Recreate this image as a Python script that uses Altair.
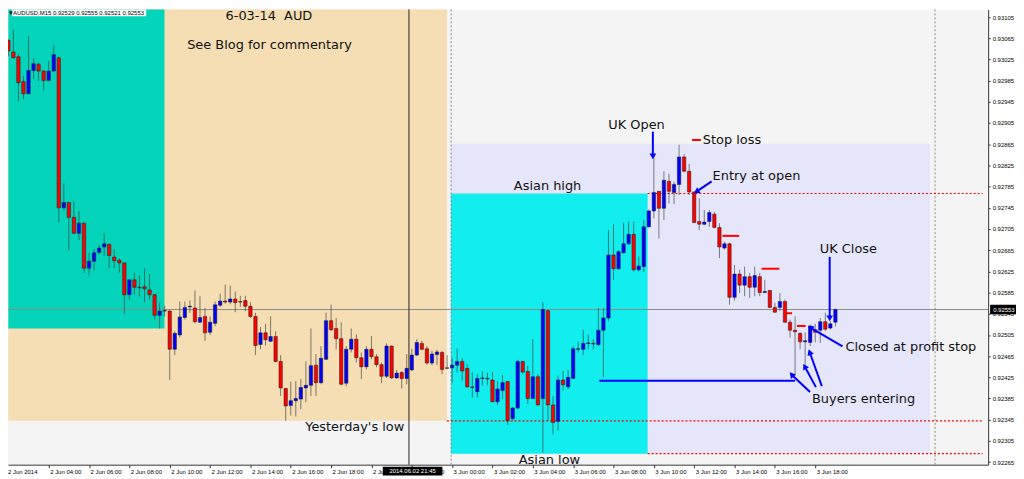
import altair as alt
import pandas as pd

# ---------------- data: AUDUSD M15 bars, 2 Jun 2014 02:00 -> 3 Jun 2014 19:00 ----------------
opens = [
    0.93061, 0.93039, 0.93030, 0.92983, 0.92960, 0.93004, 0.93016, 0.93003, 0.92985, 0.93003,
    0.93028, 0.92745, 0.92755, 0.92727, 0.92697, 0.92716, 0.92631, 0.92644, 0.92661, 0.92671,
    0.92676, 0.92652, 0.92646, 0.92641, 0.92581, 0.92609, 0.92595, 0.92596, 0.92590, 0.92581,
    0.92542, 0.92550, 0.92550, 0.92478, 0.92505, 0.92538, 0.92558, 0.92556, 0.92529, 0.92540,
    0.92510, 0.92527, 0.92561, 0.92569, 0.92567, 0.92573, 0.92568, 0.92570, 0.92559, 0.92540,
    0.92487, 0.92509, 0.92493, 0.92502, 0.92455, 0.92404, 0.92372, 0.92381, 0.92384, 0.92405,
    0.92410, 0.92448, 0.92415, 0.92459, 0.92532, 0.92517, 0.92498, 0.92414, 0.92478, 0.92497,
    0.92462, 0.92445, 0.92478, 0.92464, 0.92449, 0.92427, 0.92484, 0.92424, 0.92434, 0.92423,
    0.92439, 0.92467, 0.92489, 0.92479, 0.92452, 0.92468, 0.92472, 0.92443, 0.92443, 0.92448,
    0.92455, 0.92442, 0.92407, 0.92398, 0.92423, 0.92423, 0.92420, 0.92379, 0.92400, 0.92417,
    0.92347, 0.92367, 0.92455, 0.92436, 0.92385, 0.92426, 0.92385, 0.92551, 0.92373, 0.92342,
    0.92420, 0.92407, 0.92423, 0.92478, 0.92478, 0.92489, 0.92489, 0.92487, 0.92514, 0.92537,
    0.92656, 0.92630, 0.92660, 0.92677, 0.92695, 0.92628, 0.92634, 0.92709, 0.92739, 0.92776,
    0.92744, 0.92795, 0.92774, 0.92789, 0.92841, 0.92814, 0.92775, 0.92719, 0.92714, 0.92719,
    0.92733, 0.92708, 0.92669, 0.92677, 0.92576, 0.92620, 0.92599, 0.92615, 0.92595, 0.92615,
    0.92585, 0.92589, 0.92557, 0.92557, 0.92568, 0.92529, 0.92514, 0.92508, 0.92492, 0.92491,
    0.92515, 0.92514, 0.92530, 0.92518, 0.92529,
]
highs = [
    0.93063, 0.93081, 0.93036, 0.92994, 0.93069, 0.93027, 0.93019, 0.93004, 0.93022, 0.93052,
    0.93030, 0.92791, 0.92756, 0.92757, 0.92739, 0.92717, 0.92660, 0.92667, 0.92675, 0.92697,
    0.92677, 0.92667, 0.92650, 0.92642, 0.92610, 0.92622, 0.92617, 0.92631, 0.92620, 0.92582,
    0.92566, 0.92560, 0.92552, 0.92512, 0.92568, 0.92568, 0.92570, 0.92589, 0.92578, 0.92556,
    0.92540, 0.92568, 0.92583, 0.92600, 0.92598, 0.92587, 0.92579, 0.92579, 0.92567, 0.92547,
    0.92520, 0.92526, 0.92540, 0.92512, 0.92467, 0.92405, 0.92417, 0.92418, 0.92422, 0.92455,
    0.92517, 0.92469, 0.92484, 0.92547, 0.92562, 0.92537, 0.92529, 0.92484, 0.92517, 0.92506,
    0.92472, 0.92484, 0.92503, 0.92469, 0.92453, 0.92489, 0.92485, 0.92439, 0.92437, 0.92469,
    0.92479, 0.92497, 0.92494, 0.92484, 0.92475, 0.92477, 0.92475, 0.92467, 0.92462, 0.92479,
    0.92462, 0.92450, 0.92434, 0.92431, 0.92436, 0.92434, 0.92435, 0.92418, 0.92429, 0.92418,
    0.92369, 0.92458, 0.92456, 0.92447, 0.92497, 0.92431, 0.92567, 0.92553, 0.92390, 0.92428,
    0.92437, 0.92439, 0.92484, 0.92492, 0.92515, 0.92506, 0.92497, 0.92556, 0.92556, 0.92703,
    0.92714, 0.92665, 0.92717, 0.92719, 0.92719, 0.92653, 0.92722, 0.92742, 0.92847, 0.92777,
    0.92814, 0.92809, 0.92794, 0.92864, 0.92846, 0.92828, 0.92776, 0.92763, 0.92741, 0.92741,
    0.92737, 0.92716, 0.92681, 0.92679, 0.92637, 0.92628, 0.92634, 0.92622, 0.92634, 0.92622,
    0.92609, 0.92590, 0.92566, 0.92584, 0.92572, 0.92534, 0.92540, 0.92510, 0.92510, 0.92525,
    0.92526, 0.92537, 0.92547, 0.92531, 0.92555,
]
lows = [
    0.93031, 0.93027, 0.92946, 0.92950, 0.92959, 0.92988, 0.92984, 0.92967, 0.92984, 0.93002,
    0.92718, 0.92740, 0.92665, 0.92695, 0.92684, 0.92622, 0.92617, 0.92627, 0.92657, 0.92654,
    0.92631, 0.92631, 0.92622, 0.92544, 0.92572, 0.92581, 0.92578, 0.92567, 0.92572, 0.92534,
    0.92517, 0.92540, 0.92420, 0.92467, 0.92500, 0.92534, 0.92547, 0.92527, 0.92528, 0.92494,
    0.92505, 0.92522, 0.92558, 0.92564, 0.92563, 0.92548, 0.92558, 0.92550, 0.92537, 0.92467,
    0.92478, 0.92485, 0.92492, 0.92453, 0.92390, 0.92343, 0.92353, 0.92351, 0.92365, 0.92378,
    0.92390, 0.92390, 0.92412, 0.92458, 0.92512, 0.92478, 0.92410, 0.92408, 0.92472, 0.92453,
    0.92422, 0.92440, 0.92459, 0.92444, 0.92414, 0.92424, 0.92422, 0.92422, 0.92404, 0.92412,
    0.92437, 0.92465, 0.92476, 0.92449, 0.92448, 0.92448, 0.92431, 0.92440, 0.92415, 0.92434,
    0.92418, 0.92406, 0.92387, 0.92387, 0.92409, 0.92410, 0.92378, 0.92373, 0.92384, 0.92335,
    0.92343, 0.92365, 0.92431, 0.92375, 0.92384, 0.92372, 0.92283, 0.92343, 0.92317, 0.92325,
    0.92400, 0.92403, 0.92422, 0.92472, 0.92467, 0.92478, 0.92478, 0.92484, 0.92425, 0.92531,
    0.92609, 0.92628, 0.92659, 0.92675, 0.92625, 0.92625, 0.92624, 0.92708, 0.92725, 0.92687,
    0.92722, 0.92753, 0.92752, 0.92769, 0.92812, 0.92769, 0.92716, 0.92703, 0.92712, 0.92709,
    0.92706, 0.92650, 0.92666, 0.92562, 0.92570, 0.92584, 0.92578, 0.92575, 0.92578, 0.92578,
    0.92584, 0.92556, 0.92547, 0.92550, 0.92528, 0.92500, 0.92431, 0.92478, 0.92444, 0.92484,
    0.92491, 0.92490, 0.92512, 0.92515, 0.92521,
]
closes = [
    0.93041, 0.93028, 0.92981, 0.92960, 0.93004, 0.93017, 0.93003, 0.92985, 0.93003, 0.93034,
    0.92745, 0.92755, 0.92727, 0.92697, 0.92716, 0.92631, 0.92644, 0.92660, 0.92669, 0.92677,
    0.92655, 0.92645, 0.92641, 0.92581, 0.92609, 0.92595, 0.92594, 0.92592, 0.92581, 0.92542,
    0.92550, 0.92551, 0.92478, 0.92508, 0.92539, 0.92557, 0.92559, 0.92530, 0.92538, 0.92509,
    0.92529, 0.92562, 0.92569, 0.92567, 0.92573, 0.92566, 0.92567, 0.92559, 0.92540, 0.92485,
    0.92509, 0.92496, 0.92502, 0.92455, 0.92405, 0.92371, 0.92381, 0.92385, 0.92406, 0.92410,
    0.92447, 0.92415, 0.92461, 0.92532, 0.92515, 0.92498, 0.92412, 0.92478, 0.92497, 0.92462,
    0.92445, 0.92478, 0.92464, 0.92449, 0.92427, 0.92484, 0.92424, 0.92433, 0.92423, 0.92442,
    0.92467, 0.92491, 0.92478, 0.92452, 0.92469, 0.92473, 0.92440, 0.92442, 0.92448, 0.92455,
    0.92437, 0.92407, 0.92406, 0.92423, 0.92424, 0.92422, 0.92379, 0.92403, 0.92415, 0.92343,
    0.92367, 0.92455, 0.92435, 0.92385, 0.92426, 0.92373, 0.92553, 0.92373, 0.92340, 0.92420,
    0.92411, 0.92425, 0.92479, 0.92479, 0.92489, 0.92490, 0.92488, 0.92514, 0.92537, 0.92656,
    0.92630, 0.92662, 0.92677, 0.92695, 0.92628, 0.92635, 0.92709, 0.92739, 0.92774, 0.92744,
    0.92797, 0.92776, 0.92789, 0.92841, 0.92814, 0.92775, 0.92717, 0.92714, 0.92718, 0.92736,
    0.92708, 0.92671, 0.92677, 0.92576, 0.92620, 0.92599, 0.92615, 0.92595, 0.92617, 0.92585,
    0.92587, 0.92557, 0.92548, 0.92568, 0.92529, 0.92514, 0.92511, 0.92492, 0.92494, 0.92522,
    0.92510, 0.92530, 0.92516, 0.92526, 0.92553,
]
# bar open time in hours after 2 Jun 2014 00:00 (M15 bars)
bar_hours = [2 + 0.25 * i for i in range(len(opens))]

x_tick_hours = [4, 6, 8, 10, 12, 14, 16, 18, 20, 22, 24, 26, 28, 30, 32, 34, 36, 38, 40, 42]
x_tick_labels = ["2 Jun 04:00", "2 Jun 06:00", "2 Jun 08:00", "2 Jun 10:00", "2 Jun 12:00",
                 "2 Jun 14:00", "2 Jun 16:00", "2 Jun 18:00", "2 Jun 20:00", "2 Jun 22:00",
                 "3 Jun 00:00", "3 Jun 02:00", "3 Jun 04:00", "3 Jun 06:00", "3 Jun 08:00",
                 "3 Jun 10:00", "3 Jun 12:00", "3 Jun 14:00", "3 Jun 16:00", "3 Jun 18:00"]
first_label = "2 Jun 2014"
y_tick_values = [0.92265, 0.92305, 0.92345, 0.92385, 0.92425, 0.92465, 0.92505, 0.92545,
                 0.92585, 0.92625, 0.92665, 0.92705, 0.92745, 0.92785, 0.92825, 0.92865,
                 0.92905, 0.92945, 0.92985, 0.93025, 0.93065, 0.93105]

# session / day boxes
zone_start = [2.0, 2.0, 23.94, 23.94]
zone_end = [23.74, 9.74, 47.69, 33.69]
zone_low = [0.92343, 0.92517, 0.92281, 0.92281]
zone_high = [0.93200, 0.93200, 0.92866, 0.92772]
zone_color = ["#F5DEB3", "#03D4BA", "#E6E6FA", "#12EDED"]

# key levels (red dotted)
level_value = [0.92772, 0.92343, 0.92281]
level_start = [33.69, 23.74, 33.69]

# trade stop markers (red dashes)
stop_value = [0.92873, 0.92692, 0.92630, 0.92546, 0.92522]
stop_start = [35.89, 37.40, 39.34, 40.51, 41.09]
stop_end = [36.33, 38.23, 40.22, 40.85, 41.53]

bid_price = closes[-1]
separator_hours = [23.95, 47.94]
crosshair_hour = 21.86
crosshair_label = "2014.06.02 21:45"

W, H = 986, 458
x_scale = alt.Scale(domain=[2.2293, 50.3268], nice=False, zero=False)
y_scale = alt.Scale(domain=[0.922602, 0.931194], nice=False, zero=False)

label_expr = "[" + ",".join("'" + s + "'" for s in x_tick_labels) + "][round((datum.value - 4) / 2)]"
x_axis = alt.Axis(values=x_tick_hours, labelExpr=label_expr, title=None, grid=False, tickSize=3,
                  labelAlign="left", labelBaseline="top", labelPadding=1, labelOffset=1,
                  labelFontSize=6, labelFont="Liberation Sans", labelColor="#000",
                  tickColor="#333", domainColor="#333", labelOverlap=False, labelFlush=False)
y_axis = alt.Axis(orient="right", values=y_tick_values, format=".5f", title=None, grid=False,
                  tickSize=2, labelPadding=2, labelFontSize=6, labelFont="Liberation Sans",
                  labelColor="#000", tickColor="#333", domainColor="#333", labelOverlap=False,
                  labelFlush=False)


def X(f):
    return alt.X(f, type="quantitative", scale=x_scale, axis=x_axis)


def Y(f):
    return alt.Y(f, type="quantitative", scale=y_scale, axis=y_axis)


candles = pd.DataFrame({"h": bar_hours, "open": opens, "high": highs, "low": lows, "close": closes})
candles["col"] = ["#0000FF" if c >= o else "#FF0000" for o, c in zip(opens, closes)]

zones = pd.DataFrame({"s": zone_start, "e": zone_end, "lo": zone_low, "hi": zone_high, "c": zone_color})
levels = pd.DataFrame({"v": level_value, "s": level_start, "e": [50.3] * len(level_value)})
stops = pd.DataFrame({"v": stop_value, "s": stop_start, "e": stop_end})
seps = pd.DataFrame({"h": separator_hours})

zone_layer = alt.Chart(zones).mark_rect(clip=True).encode(
    x=X("s"), x2="e", y=Y("lo"), y2="hi", color=alt.Color("c:N", scale=None))

sep_layer = alt.Chart(seps).mark_rule(color="#8a8a8a", strokeDash=[2, 2], strokeWidth=1).encode(x=X("h"))
level_layer = alt.Chart(levels).mark_rule(color="#FF0000", strokeDash=[2, 2], strokeWidth=1.2, clip=True).encode(
    x=X("s"), x2="e", y=Y("v"))
bid_layer = alt.Chart(pd.DataFrame({"v": [bid_price]})).mark_rule(color="#8c8c8c", strokeWidth=1).encode(y=Y("v"))
cross_layer = alt.Chart(pd.DataFrame({"h": [crosshair_hour]})).mark_rule(color="#222", strokeWidth=1).encode(x=X("h"))

wick_layer = alt.Chart(candles).mark_rule(color="#3c3c3c", opacity=0.65, strokeWidth=1, clip=True).encode(
    x=X("h"), y=Y("low"), y2="high")
body_layer = alt.Chart(candles).mark_bar(size=3.4, stroke="#1a1a1a", strokeWidth=0.5, clip=True).encode(
    x=X("h"), y=Y("open"), y2="close", color=alt.Color("col:N", scale=None))

stop_layer = alt.Chart(stops).mark_rule(color="#FF0000", strokeWidth=2).encode(x=X("s"), x2="e", y=Y("v"))

# arrows (blue)
arrows = pd.DataFrame({
    "h1": [33.951, 36.863, 42.717, 43.351, 41.741, 42.034, 42.327],
    "p1": [0.928887, 0.927949, 0.926523, 0.924835, 0.923972, 0.924066, 0.924085],
    "h2": [33.951, 36.15, 42.717, 41.80, 40.86, 41.50, 41.74],
    "p2": [0.928440, 0.927765, 0.925380, 0.925180, 0.924290, 0.924440, 0.924710],
    "ang": [180, 238, 180, 300, 318, 331, 340],
})
arrow_line = alt.Chart(arrows).mark_rule(color="#0000FF", strokeWidth=2).encode(
    x=X("h1"), y=Y("p1"), x2="h2", y2="p2")
arrow_head = alt.Chart(arrows).mark_point(shape="triangle", filled=True, size=45, color="#0000FF", opacity=1).encode(
    x=X("h2"), y=Y("p2"), angle=alt.Angle("ang:Q", scale=None))
buyers_line = alt.Chart(pd.DataFrame({"s": [31.30], "e": [41.0], "v": [0.924188]})).mark_rule(
    color="#0000FF", strokeWidth=2).encode(x=X("s"), x2="e", y=Y("v"))

notes = pd.DataFrame({
    "h": [12.766, 10.863, 31.741, 36.424, 27.059, 36.912, 42.229, 43.498, 41.839, 16.717, 27.302],
    "p": [0.931070, 0.930519, 0.929018, 0.928737, 0.927855, 0.928043, 0.926673, 0.924816,
          0.923841, 0.923315, 0.922696],
    "t": ["6-03-14\u00a0 AUD", "See Blog for commentary", "UK Open", "Stop loss", "Asian high",
          "Entry at open", "UK Close", "Closed at profit stop", "Buyers entering",
          "Yesterday's low", "Asian low"],
})
note_layer = alt.Chart(notes).mark_text(align="left", baseline="middle", font="DejaVu Sans",
                                        fontSize=13, color="#111").encode(x=X("h"), y=Y("p"), text="t:N")

one = pd.DataFrame({"k": [0]})
header_text = "AUDUSD,M15  {:.5f} {:.5f} {:.5f} {:.5f}".format(opens[-1], highs[-1], lows[-1], closes[-1])
header_box = alt.Chart(one).mark_rect(color="white").encode(
    x=alt.value(4), x2=alt.value(139), y=alt.value(0), y2=alt.value(7))
header_txt = alt.Chart(one).mark_text(align="left", baseline="middle", font="Liberation Sans",
                                      fontSize=6, color="#000").encode(
    x=alt.value(5), y=alt.value(3.6), text=alt.value(header_text))
header_tri = alt.Chart(one).mark_text(align="left", baseline="middle", fontSize=6, color="#000").encode(
    x=alt.value(0), y=alt.value(3.6), text=alt.value("\u25bc"))

first_lbl = alt.Chart(one).mark_text(align="left", baseline="top", font="Liberation Sans",
                                     fontSize=6, color="#000").encode(
    x=alt.value(0), y=alt.value(H + 4), text=alt.value(first_label))

cross_box = alt.Chart(one).mark_rect(color="#000").encode(
    x=alt.value(377), x2=alt.value(437), y=alt.value(H + 2), y2=alt.value(H + 11))
cross_txt = alt.Chart(one).mark_text(align="center", baseline="middle", font="Liberation Sans",
                                     fontSize=6, color="#fff").encode(
    x=alt.value(407), y=alt.value(H + 6.5), text=alt.value(crosshair_label))

price_df = pd.DataFrame({"v": [bid_price], "lo": [bid_price - 0.00009], "hi": [bid_price + 0.00009],
                         "t": ["{:.5f}".format(bid_price)]})
price_box = alt.Chart(price_df).mark_rect(color="#000").encode(
    x=alt.value(988), x2=alt.value(1014), y=Y("lo"), y2="hi")
price_txt = alt.Chart(price_df).mark_text(align="left", baseline="middle", font="Liberation Sans",
                                          fontSize=6, color="#fff").encode(
    x=alt.value(991), y=Y("v"), text="t:N")

chart = alt.layer(
    zone_layer, sep_layer, level_layer, bid_layer, cross_layer, wick_layer, body_layer,
    stop_layer, buyers_line, arrow_line, arrow_head, note_layer,
    header_box, header_tri, header_txt, first_lbl, cross_box, cross_txt, price_box, price_txt,
).properties(
    width=W, height=H,
    padding={"left": 0, "top": 0, "right": 28, "bottom": 12},
    autosize=alt.AutoSizeParams(type="none"),
    background="white",
).configure_view(
    fill="#F4F4F4", strokeWidth=0
)

chart.save("out.html", embed_options={"renderer": "svg", "actions": False})
